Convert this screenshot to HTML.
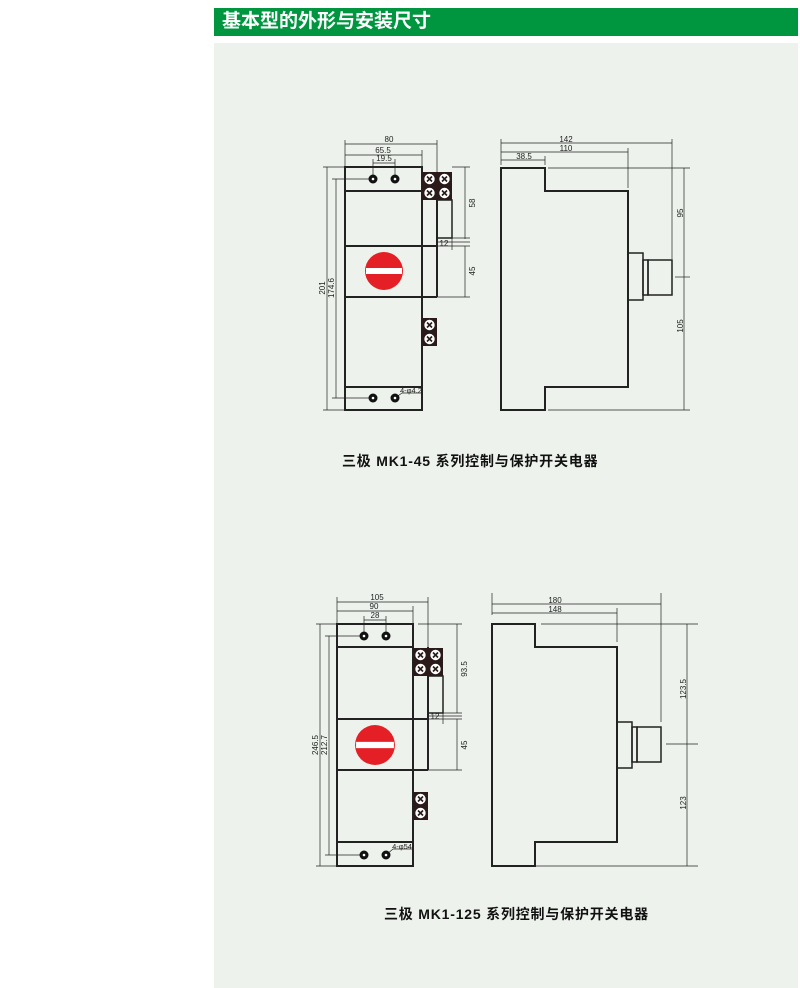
<!DOCTYPE html>
<html><head><meta charset="utf-8"><style>
html,body{margin:0;padding:0;background:#fff;}
body{width:800px;height:988px;position:relative;overflow:hidden;font-family:"Liberation Sans","Noto Sans CJK SC",sans-serif;}
.hdr{position:absolute;left:214px;top:8px;width:584px;height:28px;background:#00963f;color:#fff;font-size:19px;font-weight:bold;line-height:28px;padding-left:8px;box-sizing:border-box;font-family:"Liberation Sans","Noto Sans CJK SC",sans-serif;}
.panel{position:absolute;left:214px;top:43px;width:584px;height:945px;background:#edf3ec;}
svg{position:absolute;left:0;top:0;}
</style></head><body>
<div class="hdr">基本型的外形与安装尺寸</div>
<div class="panel"></div>
<svg width="800" height="988" viewBox="0 0 800 988" font-family="Liberation Sans, sans-serif">
<defs>
<g id="t">
<rect x="0" y="0" width="15" height="14" fill="#2a1a1a"/>
<circle cx="7.5" cy="7" r="5.6" fill="#fff" stroke="#2a1a1a" stroke-width="0.8"/>
<path d="M5 4.5L10 9.5M10 4.5L5 9.5" stroke="#2a1a1a" stroke-width="1.6"/>
</g>
<g id="knob">
<circle cx="0" cy="0" r="19" fill="#e51f26"/>
<rect x="-18" y="-3" width="36" height="6" fill="#fff"/>
</g>
</defs>

<!-- ===== Diagram 1 front ===== -->
<g stroke="#222" fill="none">
 <g stroke-width="0.7">
  <line x1="345" y1="144" x2="437" y2="144"/><line x1="345" y1="140" x2="345" y2="167"/><line x1="437" y1="140" x2="437" y2="172"/>
  <line x1="345" y1="155" x2="422" y2="155"/><line x1="422" y1="150" x2="422" y2="167"/>
  <line x1="373" y1="163" x2="395" y2="163"/><line x1="373" y1="159" x2="373" y2="175"/><line x1="395" y1="159" x2="395" y2="175"/>
  <line x1="327" y1="167" x2="327" y2="410"/><line x1="323" y1="167" x2="345" y2="167"/><line x1="323" y1="410" x2="345" y2="410"/>
  <line x1="336" y1="179" x2="336" y2="398"/><line x1="332" y1="179" x2="370" y2="179"/><line x1="332" y1="398" x2="370" y2="398"/>
  <line x1="465" y1="167" x2="465" y2="239"/><line x1="452" y1="167" x2="470" y2="167"/><line x1="452" y1="238" x2="470" y2="238"/>
  <line x1="437" y1="242" x2="470" y2="242"/><line x1="452" y1="238" x2="452" y2="250"/>
  <line x1="465" y1="246" x2="465" y2="297"/><line x1="437" y1="246" x2="470" y2="246"/><line x1="437" y1="297" x2="470" y2="297"/>
  <line x1="402" y1="393" x2="422" y2="393"/><line x1="395" y1="398" x2="402" y2="393"/>
 </g>
 <g stroke-width="2">
  <rect x="345" y="167" width="77" height="243"/>
  <line x1="345" y1="191" x2="422" y2="191"/>
  <line x1="345" y1="246" x2="437" y2="246"/>
  <line x1="345" y1="297" x2="437" y2="297"/>
  <line x1="345" y1="387" x2="422" y2="387"/>
  <line x1="437" y1="191" x2="437" y2="297"/>
  <rect x="437" y="200" width="15" height="38" stroke-width="1.5"/>
 </g>
</g>
<use href="#t" x="422" y="172"/><use href="#t" x="437" y="172"/>
<use href="#t" x="422" y="186"/><use href="#t" x="437" y="186"/>
<use href="#t" x="422" y="318"/><use href="#t" x="422" y="332"/>
<g fill="#111"><circle cx="373" cy="179" r="4.5"/><circle cx="395" cy="179" r="4.5"/><circle cx="373" cy="398" r="4.5"/><circle cx="395" cy="398" r="4.5"/></g>
<g fill="#fff"><circle cx="373" cy="179" r="1.3"/><circle cx="395" cy="179" r="1.3"/><circle cx="373" cy="398" r="1.3"/><circle cx="395" cy="398" r="1.3"/></g>
<use href="#knob" x="384" y="271"/>
<g font-size="8" fill="#222" text-anchor="middle">
 <text x="389" y="142">80</text><text x="383" y="153">65.5</text><text x="384" y="161">19.5</text>
 <text x="444" y="246">12</text>
 <text x="411" y="393" font-size="7.5">4-φ4.2</text>
 <text transform="translate(475,203) rotate(-90)">58</text>
 <text transform="translate(475,271) rotate(-90)">45</text>
 <text transform="translate(325,288) rotate(-90)">201</text>
 <text transform="translate(334,288) rotate(-90)">174.6</text>
</g>

<!-- ===== Diagram 1 side ===== -->
<g stroke="#222" fill="none">
 <g stroke-width="0.7">
  <line x1="501" y1="143" x2="672" y2="143"/><line x1="501" y1="139" x2="501" y2="165"/><line x1="672" y1="139" x2="672" y2="259"/>
  <line x1="501" y1="152" x2="628" y2="152"/><line x1="628" y1="148" x2="628" y2="188"/>
  <line x1="501" y1="160" x2="545" y2="160"/><line x1="545" y1="156" x2="545" y2="165"/>
  <line x1="548" y1="168" x2="690" y2="168"/><line x1="548" y1="410" x2="690" y2="410"/>
  <line x1="684" y1="168" x2="684" y2="410"/><line x1="675" y1="277" x2="690" y2="277"/>
 </g>
 <path stroke-width="2" d="M501 168H545V191H628V387H545V410H501Z"/>
 <g stroke-width="1.5">
  <rect x="628" y="253" width="15" height="47"/>
  <rect x="643" y="260" width="5" height="35"/>
  <rect x="648" y="260" width="24" height="35"/>
 </g>
</g>
<g font-size="8" fill="#222" text-anchor="middle">
 <text x="566" y="142">142</text><text x="566" y="151">110</text><text x="524" y="159">38.5</text>
 <text transform="translate(683,213) rotate(-90)">95</text>
 <text transform="translate(683,326) rotate(-90)">105</text>
</g>
<text x="342" y="466" font-size="14" font-weight="bold" fill="#111" font-family="Liberation Sans, Noto Sans CJK SC, sans-serif" letter-spacing="0.8">三极  MK1-45 系列控制与保护开关电器</text>

<!-- ===== Diagram 2 front ===== -->
<g stroke="#222" fill="none">
 <g stroke-width="0.7">
  <line x1="337" y1="602" x2="428" y2="602"/><line x1="337" y1="597" x2="337" y2="624"/><line x1="428" y1="597" x2="428" y2="647"/>
  <line x1="337" y1="611" x2="413" y2="611"/><line x1="413" y1="606" x2="413" y2="624"/>
  <line x1="364" y1="620" x2="386" y2="620"/><line x1="364" y1="616" x2="364" y2="632"/><line x1="386" y1="616" x2="386" y2="632"/>
  <line x1="320" y1="624" x2="320" y2="866"/><line x1="316" y1="624" x2="337" y2="624"/><line x1="316" y1="866" x2="337" y2="866"/>
  <line x1="329" y1="636" x2="329" y2="855"/><line x1="325" y1="636" x2="360" y2="636"/><line x1="325" y1="855" x2="360" y2="855"/>
  <line x1="457" y1="624" x2="457" y2="713"/><line x1="418" y1="624" x2="462" y2="624"/><line x1="443" y1="713" x2="462" y2="713"/>
  <line x1="428" y1="716" x2="462" y2="716"/><line x1="443" y1="713" x2="443" y2="724"/>
  <line x1="457" y1="719" x2="457" y2="770"/><line x1="428" y1="719" x2="462" y2="719"/><line x1="428" y1="770" x2="462" y2="770"/>
  <line x1="393" y1="849" x2="413" y2="849"/><line x1="386" y1="855" x2="393" y2="849"/>
 </g>
 <g stroke-width="2">
  <rect x="337" y="624" width="76" height="242"/>
  <line x1="337" y1="647" x2="413" y2="647"/>
  <line x1="337" y1="719" x2="428" y2="719"/>
  <line x1="337" y1="770" x2="428" y2="770"/>
  <line x1="337" y1="842" x2="413" y2="842"/>
  <line x1="428" y1="647" x2="428" y2="770"/>
  <rect x="428" y="676" width="15" height="37" stroke-width="1.5"/>
 </g>
</g>
<use href="#t" x="413" y="648"/><use href="#t" x="428" y="648"/>
<use href="#t" x="413" y="662"/><use href="#t" x="428" y="662"/>
<use href="#t" x="413" y="792"/><use href="#t" x="413" y="806"/>
<g fill="#111"><circle cx="364" cy="636" r="4.5"/><circle cx="386" cy="636" r="4.5"/><circle cx="364" cy="855" r="4.5"/><circle cx="386" cy="855" r="4.5"/></g>
<g fill="#fff"><circle cx="364" cy="636" r="1.3"/><circle cx="386" cy="636" r="1.3"/><circle cx="364" cy="855" r="1.3"/><circle cx="386" cy="855" r="1.3"/></g>
<use href="#knob" x="375" y="745" transform="translate(-18.75,-37.25) scale(1.05)"/>
<g font-size="8" fill="#222" text-anchor="middle">
 <text x="377" y="600">105</text><text x="374" y="609">90</text><text x="375" y="618">28</text>
 <text x="435" y="719">12</text>
 <text x="402" y="849" font-size="7.5">4-φ54</text>
 <text transform="translate(467,669) rotate(-90)">93.5</text>
 <text transform="translate(467,745) rotate(-90)">45</text>
 <text transform="translate(318,745) rotate(-90)">246.5</text>
 <text transform="translate(327,745) rotate(-90)">212.7</text>
</g>

<!-- ===== Diagram 2 side ===== -->
<g stroke="#222" fill="none">
 <g stroke-width="0.7">
  <line x1="492" y1="604" x2="661" y2="604"/><line x1="492" y1="593" x2="492" y2="615"/><line x1="661" y1="593" x2="661" y2="722"/>
  <line x1="492" y1="613" x2="617" y2="613"/><line x1="617" y1="608" x2="617" y2="642"/>
  <line x1="541" y1="624" x2="698" y2="624"/><line x1="535" y1="866" x2="698" y2="866"/>
  <line x1="687" y1="624" x2="687" y2="866"/><line x1="666" y1="744" x2="698" y2="744"/>
 </g>
 <path stroke-width="2" d="M492 624H535V647H617V842H535V866H492Z"/>
 <g stroke-width="1.5">
  <rect x="617" y="722" width="15" height="46"/>
  <rect x="632" y="727" width="5" height="35"/>
  <rect x="637" y="727" width="24" height="35"/>
 </g>
</g>
<g font-size="8" fill="#222" text-anchor="middle">
 <text x="555" y="603">180</text><text x="555" y="612">148</text>
 <text transform="translate(686,689) rotate(-90)">123.5</text>
 <text transform="translate(686,803) rotate(-90)">123</text>
</g>
<text x="384" y="919" font-size="14" font-weight="bold" fill="#111" font-family="Liberation Sans, Noto Sans CJK SC, sans-serif" letter-spacing="0.8">三极  MK1-125 系列控制与保护开关电器</text>
</svg>
</body></html>
